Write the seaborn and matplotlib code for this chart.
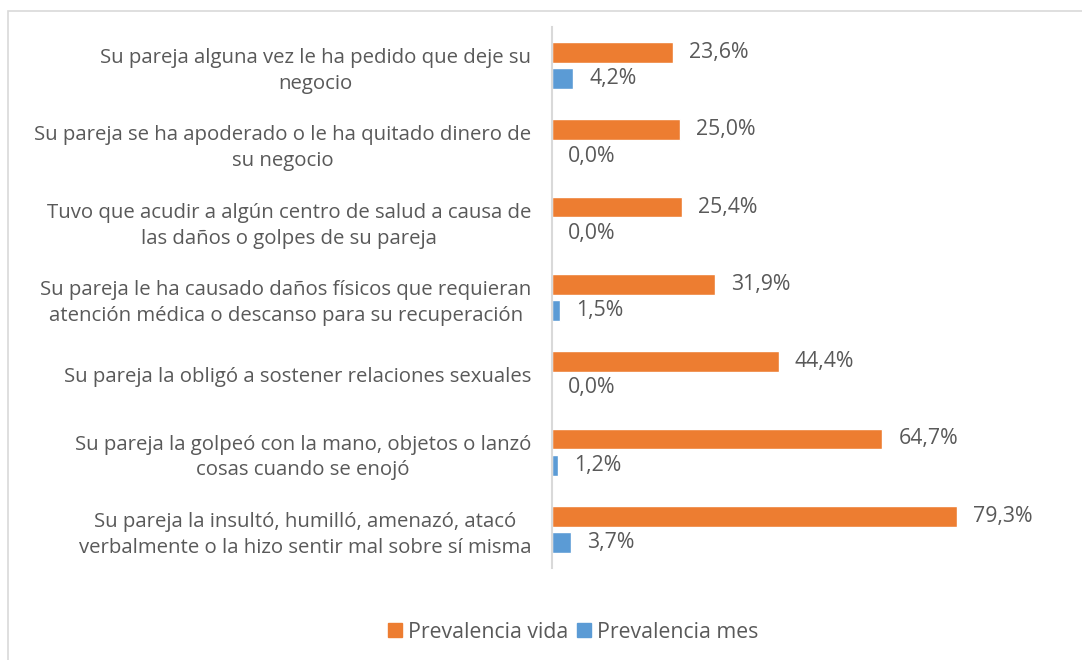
import pandas as pd
import matplotlib.pyplot as plt
import matplotlib.patches as mpatches
import seaborn as sns

# data (top to bottom as in the chart)
categories = [
    'Su pareja alguna vez le ha pedido que deje su\nnegocio',
    'Su pareja se ha apoderado o le ha quitado dinero de\nsu negocio',
    'Tuvo que acudir a algún centro de salud a causa de\nlas daños o golpes de su pareja',
    'Su pareja le ha causado daños físicos que requieran\natención médica o descanso para su recuperación',
    'Su pareja la obligó a sostener relaciones sexuales',
    'Su pareja la golpeó con la mano, objetos o lanzó\ncosas cuando se enojó',
    'Su pareja la insultó, humilló, amenazó, atacó\nverbalmente o la hizo sentir mal sobre sí misma',
]
prev_vida = [23.6, 25.0, 25.4, 31.9, 44.4, 64.7, 79.3]
prev_mes = [4.2, 0.0, 0.0, 1.5, 0.0, 1.2, 3.7]
series = ['Prevalencia vida', 'Prevalencia mes']
colors = ['#ED7D31', '#5B9BD5']

df = pd.DataFrame({
    'categoria': categories * 2,
    'valor': prev_vida + prev_mes,
    'serie': [series[0]] * len(categories) + [series[1]] * len(categories),
})

sns.set_style("white")
plt.rcParams['font.family'] = ['Open Sans', 'DejaVu Sans']
text_color = '#595959'
fs = 15.3

fig = plt.figure(figsize=(10.82, 6.6), dpi=100)
ax = fig.add_axes([0.5102, 0.1394, 0.451, 0.8197])

sns.barplot(
    data=df, x='valor', y='categoria', hue='serie',
    orient='h', palette=colors, saturation=1, width=0.68, gap=0.21,
    order=categories, hue_order=series, legend=False, ax=ax,
)

# value labels
for cont in ax.containers:
    vals = [b.get_width() for b in cont]
    labs = [f"{v:.1f}".replace('.', ',') + '%' for v in vals]
    ax.bar_label(cont, labels=labs, padding=11.5, fontsize=fs, color=text_color)

ax.set_xlim(0, 95.55)
ax.set_xticks([])
ax.set_xlabel(None)
ax.set_ylabel(None)
ax.tick_params(axis='y', length=0, pad=15)
for lbl in ax.get_yticklabels():
    lbl.set_fontsize(14.7)
    lbl.set_color(text_color)
    lbl.set_multialignment('center')
    lbl.set_linespacing(1.39)

for s in ['top', 'right', 'bottom']:
    ax.spines[s].set_visible(False)
ax.spines['left'].set_color('#D9D9D9')
ax.spines['left'].set_linewidth(1.5)

# legend
handles = [mpatches.Patch(color=c, label=s) for c, s in zip(colors, series)]
fig.legend(handles=handles, loc='center', bbox_to_anchor=(0.530, 0.042), ncol=2,
           frameon=False, fontsize=fs, labelcolor=text_color,
           handlelength=0.65, handleheight=0.65, handletextpad=0.3, columnspacing=0.4)

# chart frame
fig.patches.append(mpatches.Rectangle((8 / 1082, -0.01), 1.1, 1 - 11 / 660 + 0.01,
                                      transform=fig.transFigure, fill=False,
                                      edgecolor='#D9D9D9', linewidth=1.2))

fig.savefig('out.png', dpi=100)
